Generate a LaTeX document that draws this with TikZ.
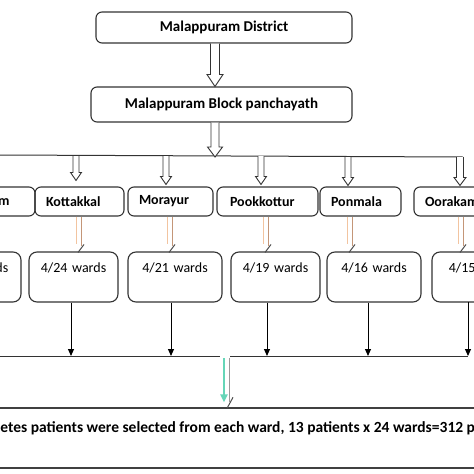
\documentclass[tikz,border=0pt]{standalone}
\usepackage{fontspec}
\setmainfont{Carlito}
\usetikzlibrary{calc,arrows.meta}
\newcommand\harrow[5]{%
  \draw[hollow] ($(#1)+(-#3,0)$) -- ($(#2)+(-#3,-#5)$) -- ($(#2)+(-#4,-#5)$) -- (#2)
    -- ($(#2)+(#4,-#5)$) -- ($(#2)+(#3,-#5)$) -- ($(#1)+(#3,0)$);}
\newcommand\oarrow[2]{% #1 start coordinate on box bottom, #2 ward node
  \draw[oleft] (#1) -- ($(#1 |- #2.north)+(0,-7)$);
  \draw[oright] ($(#1)+(5,0)$) -- ($(#1 |- #2.north)+(5,-5)$);
  \draw[slash] ($(#1 |- #2.north)+(2,1)$) -- ++(6,-8);}
\begin{document}
\begin{tikzpicture}[x=1pt,y=-1pt,
  hbox/.style={draw=black!80, line width=1.1pt, rounded corners=6pt, fill=white,
    font=\bfseries\fontsize{15}{18}\selectfont, inner sep=0pt},
  pbox/.style={draw=black!80, line width=1.1pt, rounded corners=6pt,
    font=\bfseries\fontsize{14}{17}\selectfont, minimum height=29pt,
    inner ysep=0pt, inner xsep=11pt, align=left},
  wbox/.style={draw=black!80, line width=1.1pt, rounded corners=8pt,
    font=\fontsize{14}{17}\selectfont, inner ysep=4pt, inner xsep=0pt,
    text height=16pt, text depth=26pt, align=center},
  bbox/.style={draw=black!75, line width=1.3pt, font=\bfseries\fontsize{15.5}{18}\selectfont,
    inner sep=0pt, text height=24pt, text depth=36pt},
  hollow/.style={draw=black!80, line width=0.9pt, fill=white, line join=miter},
  hline/.style={draw=black!80, line width=1pt},
  warrow/.style={draw=black, line width=1pt, -{Triangle[length=7pt,width=6pt]}},
  oleft/.style={draw={rgb,255:red,242;green,196;blue,160}, line width=1pt},
  oright/.style={draw={rgb,255:red,196;green,150;blue,120}, line width=1pt},
  slash/.style={draw=black!70, line width=1pt},
  teal/.style={draw={rgb,255:red,102;green,214;blue,184}, line width=2pt,
    -{Triangle[length=8pt,width=7pt]}},
]
\useasboundingbox (0,0) rectangle (474,474);
\clip (0,0) rectangle (474,474);
\fill[white] (0,0) rectangle (474,474);

% header boxes
\node[hbox, minimum width=256pt, minimum height=31pt] (dist) at (224,27.5) {Malappuram District};
\node[hbox, minimum width=261pt, minimum height=35pt] (block) at (221.5,104.5) {Malappuram Block panchayath};

% top distribution line
\coordinate (L0) at (0,155);
\coordinate (L1) at (463,157);
\draw[hline] (L0) -- (L1);

\coordinate (a1s) at ($(dist.south)+(-9,0)$);
\coordinate (a1e) at (a1s |- block.north);
\harrow{a1s}{a1e}{4.5}{8}{12}
\coordinate (a2s) at ($(block.south)+(-6.5,0)$);
\coordinate (a2e) at (215,157);
\harrow{a2s}{a2e}{4}{7.5}{10}

% panchayath boxes
\node[pbox, text width=82pt] (p0) at (-17,201.5) {Anakkayam};
\node[pbox, text width=67pt] (p1) at (79.5,201.5) {Kottakkal};
\node[pbox, text width=63pt] (p2) at (170.5,201.5) {Morayur};
\node[pbox, text width=75pt, inner xsep=13pt] (p3) at (267.5,201.5) {Pookkottur};
\node[pbox, text width=59pt] (p4) at (360.5,201.5) {Ponmala};
\node[pbox, text width=94pt] (p5) at (472,201.5) {Oorakam};

% small hollow arrows from line to panchayaths
\coordinate (s1) at (76,156);  \coordinate (e1) at ($(s1 |- p1.north)+(0,-6)$);
\coordinate (s2) at (166,156); \coordinate (e2) at ($(s2 |- p2.north)+(0,-2)$);
\coordinate (s3) at (261,156); \coordinate (e3) at ($(s3 |- p3.north)+(0,-2)$);
\coordinate (s4) at (348,157); \coordinate (e4) at ($(s4 |- p4.north)+(0,-1)$);
\coordinate (s5) at (460,157); \coordinate (e5) at ($(s5 |- p5.north)+(0,-1)$);
\harrow{s1}{e1}{3}{5.5}{8}
\harrow{s2}{e2}{3}{5.5}{8}
\harrow{s3}{e3}{3}{5.5}{8}
\harrow{s4}{e4}{3}{5.5}{8}
\harrow{s5}{e5}{3.5}{6}{8}

% ward boxes
\node[wbox, text width=91pt] (w0) at (-24.5,277) {4/23 wards};
\node[wbox, text width=89pt] (w1) at (73.5,277) {4/24 wards};
\node[wbox, text width=94pt] (w2) at (175,277) {4/21 wards};
\node[wbox, text width=89pt] (w3) at (275.5,277) {4/19 wards};
\node[wbox, text width=94pt] (w4) at (374,277) {4/16 wards};
\node[wbox, text width=99pt] (w5) at (481.5,277) {4/15 wards};

% orange double connectors
\coordinate (o1) at ($(p1.south)+(-3.5,0)$);
\coordinate (o2) at ($(p2.south)+(-3.5,0)$);
\coordinate (o3) at ($(p3.south)+(-4.5,0)$);
\coordinate (o4) at ($(p4.south)+(-13.5,0)$);
\coordinate (o5) at ($(p5.south)+(-14,0)$);
\oarrow{o1}{w1}
\oarrow{o2}{w2}
\oarrow{o3}{w3}
\oarrow{o4}{w4}
\oarrow{o5}{w5}

% bottom collecting line
\coordinate (B0) at (0,356);
\coordinate (G1) at (220,356);
\coordinate (G2) at (230,356);
\coordinate (B1) at (468,356);
\draw[hline] (B0) -- (G1);
\draw[hline] (G2) -- (B1);

\coordinate (v1) at ($(w1.south)+(-2.5,0)$);
\coordinate (v2) at ($(w2.south)+(-4,0)$);
\coordinate (v3) at ($(w3.south)+(-8.5,0)$);
\coordinate (v4) at ($(w4.south)+(-6,0)$);
\coordinate (v5) at (468,302);
\draw[warrow] (v1) -- (v1 |- B0);
\draw[warrow] (v2) -- (v2 |- B0);
\draw[warrow] (v3) -- (v3 |- B0);
\draw[warrow] (v4) -- (v4 |- B0);
\draw[warrow] (v5) -- (v5 |- B0);

% bottom box
\node[bbox, minimum width=1100pt, minimum height=60pt] (bb) at (245,438)
  {Diabetes patients were selected from each ward, 13 patients x 24 wards=312 patients};

% teal connector
\coordinate (ts) at (224,358);
\draw[teal] (ts) -- ($(ts |- bb.north)+(0,-5)$);
\coordinate (gs) at (229,358);
\draw[draw=black!40, line width=1pt] (gs) -- ($(gs |- bb.north)+(0,-5)$);
\draw[slash] ($(gs |- bb.north)+(-2,1)$) -- ++(6,-11);
\end{tikzpicture}
\end{document}
